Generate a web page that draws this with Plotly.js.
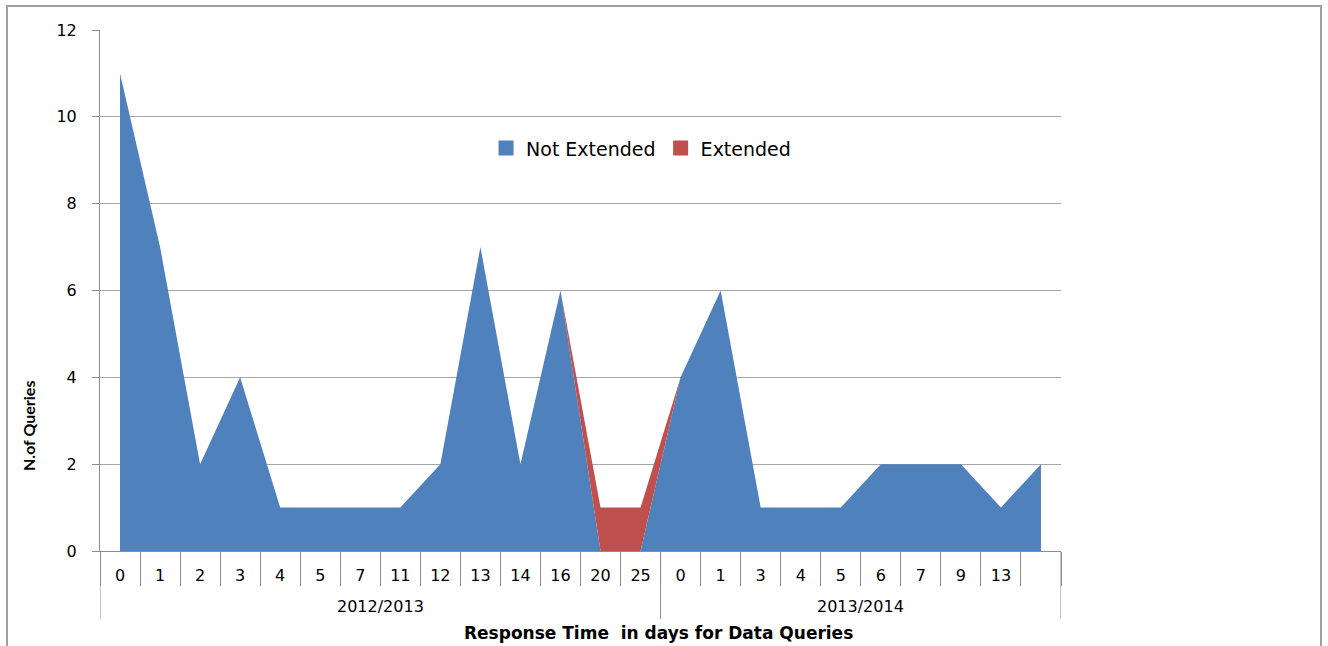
<!DOCTYPE html>
<html>
<head>
<meta charset="utf-8">
<script src="https://cdn.plot.ly/plotly-3.0.1.min.js"></script>
<style>
html,body{margin:0;padding:0;background:#fff;}
#chart{width:1328px;height:646px;}
</style>
</head>
<body>
<div id="chart"></div>
<script>
const groups = ["2012/2013","2013/2014"];
const groupSizes = [14, 10];
const days = ["0","1","2","3","4","5","7","11","12","13","14","16","20","25",
              "0","1","3","4","5","6","7","9","13",""];
const notExtended = [11,7,2,4,1,1,1,1,2,7,2,6,0,0, 4,6,1,1,1,2,2,2,1,2];
const extended    = [0,0,0,0,0,0,0,0,0,0,0,0,1,1, 0,0,0,0,0,0,0,0,0,0];

const blue = "#4F81BD", red = "#C0504D", gray = "#8c8c8c";
const idx = days.map((d,i)=>i);

const traces = [
  {type:"scatter", mode:"lines", name:"Not Extended", x:idx, y:notExtended, legendgroup:"ne", showlegend:false,
   stackgroup:"one", line:{width:0, color:blue}, fillcolor:blue},
  {type:"scatter", mode:"lines", name:"Extended", x:idx, y:extended, legendgroup:"ex", showlegend:false,
   stackgroup:"one", line:{width:0, color:red}, fillcolor:red},
  {type:"scatter", mode:"markers", name:"Not Extended", x:[null], y:[null], legendgroup:"ne",
   marker:{symbol:"square", size:15, color:blue}},
  {type:"scatter", mode:"markers", name:"Extended", x:[null], y:[null], legendgroup:"ex",
   marker:{symbol:"square", size:15, color:red}}
];

const annotations = [];
const shapes = [];
let start = 0;
const divY = -(619-551)/521;
shapes.push({type:"line", xref:"x", yref:"paper", x0:-0.5, x1:-0.5, y0:0, y1:divY, line:{color:gray, width:1}});
groups.forEach((g,k)=>{
  const end = start + groupSizes[k];
  annotations.push({text:g, xref:"x", yref:"paper", x:(start+end-1)/2, y:-(606-551)/521,
    xanchor:"center", yanchor:"middle", showarrow:false,
    font:{family:"DejaVu Sans, Verdana, sans-serif", size:16, color:"#000"}});
  shapes.push({type:"line", xref:"x", yref:"paper", x0:end-0.5, x1:end-0.5, y0:0, y1:divY, line:{color:gray, width:1}});
  start = end;
});
annotations.push({text:"Response Time  in days for Data Queries", xref:"paper", yref:"paper",
  x:(658-100)/961, y:-(633-551)/521, xanchor:"center", yanchor:"middle", showarrow:false,
  font:{family:"DejaVu Sans, Verdana, sans-serif", size:17, weight:"bold", color:"#000"}});
annotations.push({text:"N.of Queries", xref:"paper", yref:"paper", textangle:-90,
  x:(28-100)/961, y:(551-426)/521, xanchor:"center", yanchor:"middle", showarrow:false,
  font:{family:"Lato, sans-serif", size:16, weight:"bold", color:"#000"}});
shapes.push({type:"rect", xref:"paper", yref:"paper",
  x0:(7-100)/961, x1:(1321-100)/961, y0:-0.3, y1:(551-6)/521,
  line:{color:"#a0a0a0", width:2}, fillcolor:"rgba(0,0,0,0)", layer:"below"});

const layout = {
  width:1328, height:646,
  margin:{l:100, r:267, t:30, b:95},
  paper_bgcolor:"#fff", plot_bgcolor:"#fff",
  font:{family:"DejaVu Sans, Verdana, sans-serif", size:16, color:"#000"},
  showlegend:true,
  legend:{orientation:"h", traceorder:"normal", x:0.563, y:0.773, xanchor:"center", yanchor:"middle",
          font:{size:19, family:"DejaVu Sans, Verdana, sans-serif"}, bgcolor:"rgba(0,0,0,0)", itemwidth:30},
  xaxis:{type:"linear", range:[-0.5,23.5], showline:true, linecolor:gray, linewidth:1,
         tickmode:"array", tickvals:idx, ticktext:days, ticks:"", ticklabelstandoff:10,
         minor:{tick0:-0.5, dtick:1, ticks:"outside", ticklen:34, tickcolor:gray, showgrid:false},
         showgrid:false, zeroline:false, tickfont:{size:16}},
  yaxis:{range:[0,12], dtick:2, showline:true, linecolor:gray, linewidth:1,
         ticks:"outside", ticklen:7, tickcolor:gray, ticklabelstandoff:12,
         showgrid:true, gridcolor:"#a6a6a6", gridwidth:1, zeroline:false,
         tickfont:{size:16}},
  annotations: annotations,
  shapes: shapes
};

Plotly.newPlot("chart", traces, layout, {displayModeBar:false, staticPlot:true});
</script>
</body>
</html>
